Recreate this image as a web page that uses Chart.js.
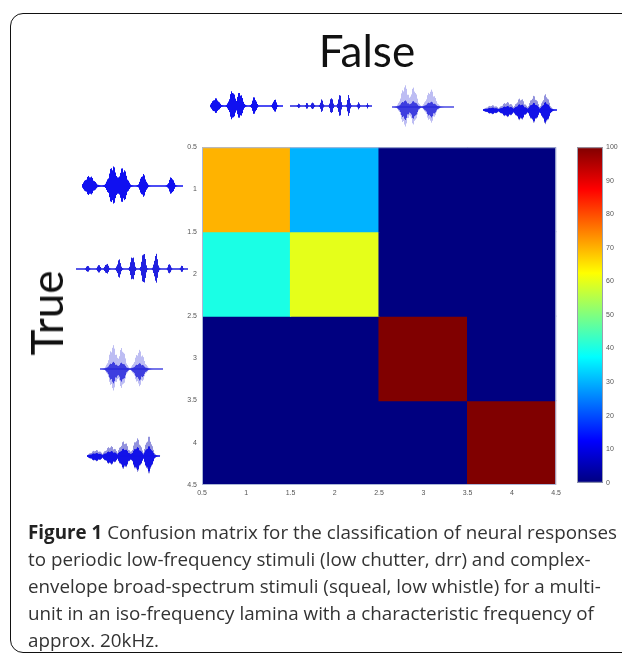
<!DOCTYPE html>
<html>
<head>
<meta charset="utf-8">
<script src="https://cdn.jsdelivr.net/npm/chart.js@4.4.1/dist/chart.umd.min.js"></script>
<style>
  body { margin: 0; width: 622px; height: 653px; overflow: hidden; background: #fff; position: relative; font-family: "Open Sans", sans-serif; }
  #frame { position: absolute; left: 10px; top: 13px; width: 660px; height: 638px; border: 1.6px solid #111; border-radius: 13px; }
  #deco { position: absolute; left: 0; top: 0; }
  #matrix { position: absolute; left: 170px; top: 138px; }
  #bar { position: absolute; left: 572px; top: 140px; }
  .big { position: absolute; font-family: Lato, sans-serif; color: #111; font-size: 44px; line-height: 1; }
  #falseLbl { left: 367px; top: 28px; transform: translateX(-50%); }
  #trueLbl { left: 46px; top: 313px; transform: translate(-50%, -50%) rotate(-90deg); }
  #caption { position: absolute; left: 28px; top: 519px; font-size: 19px; line-height: 27px; color: #333; white-space: nowrap; transform-origin: 0 0; }
  #caption b { color: #222; }
</style>
</head>
<body>
<div id="frame"></div>
<canvas id="deco" width="622" height="653"></canvas>
<div class="big" id="falseLbl">False</div>
<div class="big" id="trueLbl">True</div>
<canvas id="matrix" width="395" height="362"></canvas>
<canvas id="bar" width="50" height="350"></canvas>
<div id="caption"><b>Figure 1</b> Confusion matrix for the classification of neural responses<br>to periodic low-frequency stimuli (low chutter, drr) and complex-<br>envelope broad-spectrum stimuli (squeal, low whistle) for a multi-<br>unit in an iso-frequency lamina with a characteristic frequency of<br>approx. 20kHz.</div>
<script>
// confusion matrix, percent (rows = true class, columns = predicted class)
const classes = [1, 2, 3, 4];
const row1 = [70, 30, 0, 0];
const row2 = [40, 60, 0, 0];
const row3 = [0, 0, 100, 0];
const row4 = [0, 0, 0, 100];
const matrixRows = [row1, row2, row3, row4];
const axisTicks = [0.5, 1, 1.5, 2, 2.5, 3, 3.5, 4, 4.5];
const barTicks = [0, 10, 20, 30, 40, 50, 60, 70, 80, 90, 100];

// matlab jet colormap
function jet(v) {
  const t = v / 100;
  const c = x => Math.round(255 * Math.max(0, Math.min(1, 1.5 - Math.abs(4 * t - x))));
  return 'rgb(' + c(3) + ',' + c(2) + ',' + c(1) + ')';
}
const jetStops = [[0, '#000080'], [0.125, '#0000ff'], [0.375, '#00ffff'], [0.625, '#ffff00'], [0.875, '#ff0000'], [1, '#800000']];

const boxPlugin = {
  id: 'box',
  afterDatasetsDraw(chart, args, opts) {
    const a = chart.chartArea, ctx = chart.ctx;
    ctx.save();
    ctx.strokeStyle = opts.color;
    ctx.lineWidth = 1;
    ctx.strokeRect(a.left + 0.5, a.top + 0.5, a.right - a.left - 1, a.bottom - a.top - 1);
    ctx.restore();
  }
};

const tickFont = { size: 7, family: 'Arial, "Liberation Sans", sans-serif' };
const tickLabel = v => String(v);

new Chart(document.getElementById('matrix'), {
  type: 'bar',
  data: {
    labels: classes,
    datasets: matrixRows.map((row, i) => ({
      data: classes.map(() => [classes[i] - 0.5, classes[i] + 0.5]),
      backgroundColor: row.map(jet),
      borderWidth: 0,
      inflateAmount: 0.6,
      grouped: false,
      barPercentage: 1,
      categoryPercentage: 1
    }))
  },
  options: {
    responsive: false,
    animation: false,
    layout: { padding: { top: 7, right: 7, left: 0, bottom: 0 } },
    plugins: { legend: { display: false }, tooltip: { enabled: false }, box: { color: '#aab6d6' } },
    scales: {
      x: { type: 'category', offset: true, display: false },
      xt: {
        type: 'linear', position: 'bottom', min: 0.5, max: 4.5, offset: false,
        grid: { display: false, drawTicks: false },
        border: { display: false },
        ticks: { font: tickFont, color: '#555', padding: 4, maxRotation: 0, autoSkip: false, callback: tickLabel },
        afterBuildTicks: s => { s.ticks = axisTicks.map(v => ({ value: v })); },
        afterFit: s => { s.height = 15; }
      },
      y: {
        type: 'linear', min: 0.5, max: 4.5, reverse: true,
        grid: { display: false, drawTicks: false },
        border: { display: false },
        ticks: { font: tickFont, color: '#555', padding: 5, autoSkip: false, callback: tickLabel },
        afterBuildTicks: s => { s.ticks = axisTicks.map(v => ({ value: v })); },
        afterFit: s => { s.width = 32; }
      }
    }
  },
  plugins: [boxPlugin]
});

new Chart(document.getElementById('bar'), {
  type: 'bar',
  data: {
    labels: [''],
    datasets: [{
      data: [[0, 100]],
      backgroundColor: c => {
        const a = c.chart.chartArea;
        if (!a) return '#000080';
        const g = c.chart.ctx.createLinearGradient(0, a.bottom, 0, a.top);
        jetStops.forEach(s => g.addColorStop(s[0], s[1]));
        return g;
      },
      borderWidth: 0,
      barPercentage: 1,
      categoryPercentage: 1
    }]
  },
  options: {
    responsive: false,
    animation: false,
    layout: { padding: { top: 5, left: 5, bottom: 5, right: 0 } },
    plugins: { legend: { display: false }, tooltip: { enabled: false }, box: { color: '#9aa0b0' } },
    scales: {
      x: { display: false },
      y: {
        position: 'right', min: 0, max: 100,
        grid: { display: false, drawTicks: false },
        border: { display: false },
        ticks: { font: tickFont, color: '#555', padding: 3 },
        afterBuildTicks: s => { s.ticks = barTicks.map(v => ({ value: v })); },
        afterFit: s => { s.width = 19; }
      }
    }
  },
  plugins: [boxPlugin]
});

// stimulus waveform sketches (decoration)
const waves = {
  chutter: { bursts: [[0.07, 0.06, 0.5], [0.3, 0.05, 1], [0.4, 0.05, 0.9], [0.6, 0.035, 0.6], [0.88, 0.03, 0.45]], color: '#1010f0' },
  drr: { bursts: [[0.1, 0.015, 0.2], [0.2, 0.015, 0.25], [0.27, 0.02, 0.3], [0.38, 0.02, 0.5], [0.5, 0.02, 0.75], [0.6, 0.02, 0.95], [0.71, 0.02, 0.8], [0.83, 0.015, 0.3], [0.94, 0.012, 0.2]], color: '#2020e0' },
  squeal: { bursts: [[0.2, 0.08, 1], [0.34, 0.07, 0.9], [0.62, 0.09, 0.8]], color: 'rgba(90,90,225,0.4)', core: 'rgba(40,40,220,0.85)' },
  whistle: { bursts: [[0.12, 0.1, 0.3], [0.32, 0.1, 0.5], [0.5, 0.08, 0.75], [0.68, 0.07, 0.9], [0.84, 0.06, 1]], color: 'rgba(110,110,210,0.75)', core: '#1212e8', coreSize: 0.5 }
};

const ctx = document.getElementById('deco').getContext('2d');
function drawWave(w, x0, cy, width, half) {
  const env = t => Math.max(0, ...w.bursts.map(b => b[2] * Math.exp(-Math.pow((t - b[0]) / b[1], 2))));
  const cs = w.coreSize || 0.3;
  for (let px = 0; px <= width; px++) {
    const t = px / width;
    const e = env(t) * (0.72 + 0.28 * Math.abs(Math.sin(px * 2.3)));
    ctx.strokeStyle = w.color;
    ctx.lineWidth = 1;
    ctx.beginPath();
    ctx.moveTo(x0 + px + 0.5, cy - e * half);
    ctx.lineTo(x0 + px + 0.5, cy + e * half * 0.9);
    ctx.stroke();
    if (w.core) {
      ctx.strokeStyle = w.core;
      ctx.beginPath();
      ctx.moveTo(x0 + px + 0.5, cy - e * half * cs);
      ctx.lineTo(x0 + px + 0.5, cy + e * half * (cs + 0.3));
      ctx.stroke();
    }
  }
  ctx.strokeStyle = w.core || w.color;
  ctx.lineWidth = 1.5;
  ctx.beginPath();
  ctx.moveTo(x0, cy);
  ctx.lineTo(x0 + width, cy);
  ctx.stroke();
}
// top row
drawWave(waves.chutter, 210, 106, 73, 16);
drawWave(waves.drr, 290, 106, 82, 14);
drawWave(waves.squeal, 392, 107, 62, 22);
drawWave(waves.whistle, 483, 110, 74, 16);
// left column
drawWave(waves.chutter, 82, 186, 101, 21);
drawWave(waves.drr, 76, 269, 112, 20);
drawWave(waves.squeal, 100, 369, 63, 24);
drawWave(waves.whistle, 87, 456, 73, 20);

// fit caption width to reference
const cap = document.getElementById('caption');
const scale = 589 / cap.getBoundingClientRect().width;
cap.style.transform = 'scaleX(' + scale + ')';
</script>
</body>
</html>
